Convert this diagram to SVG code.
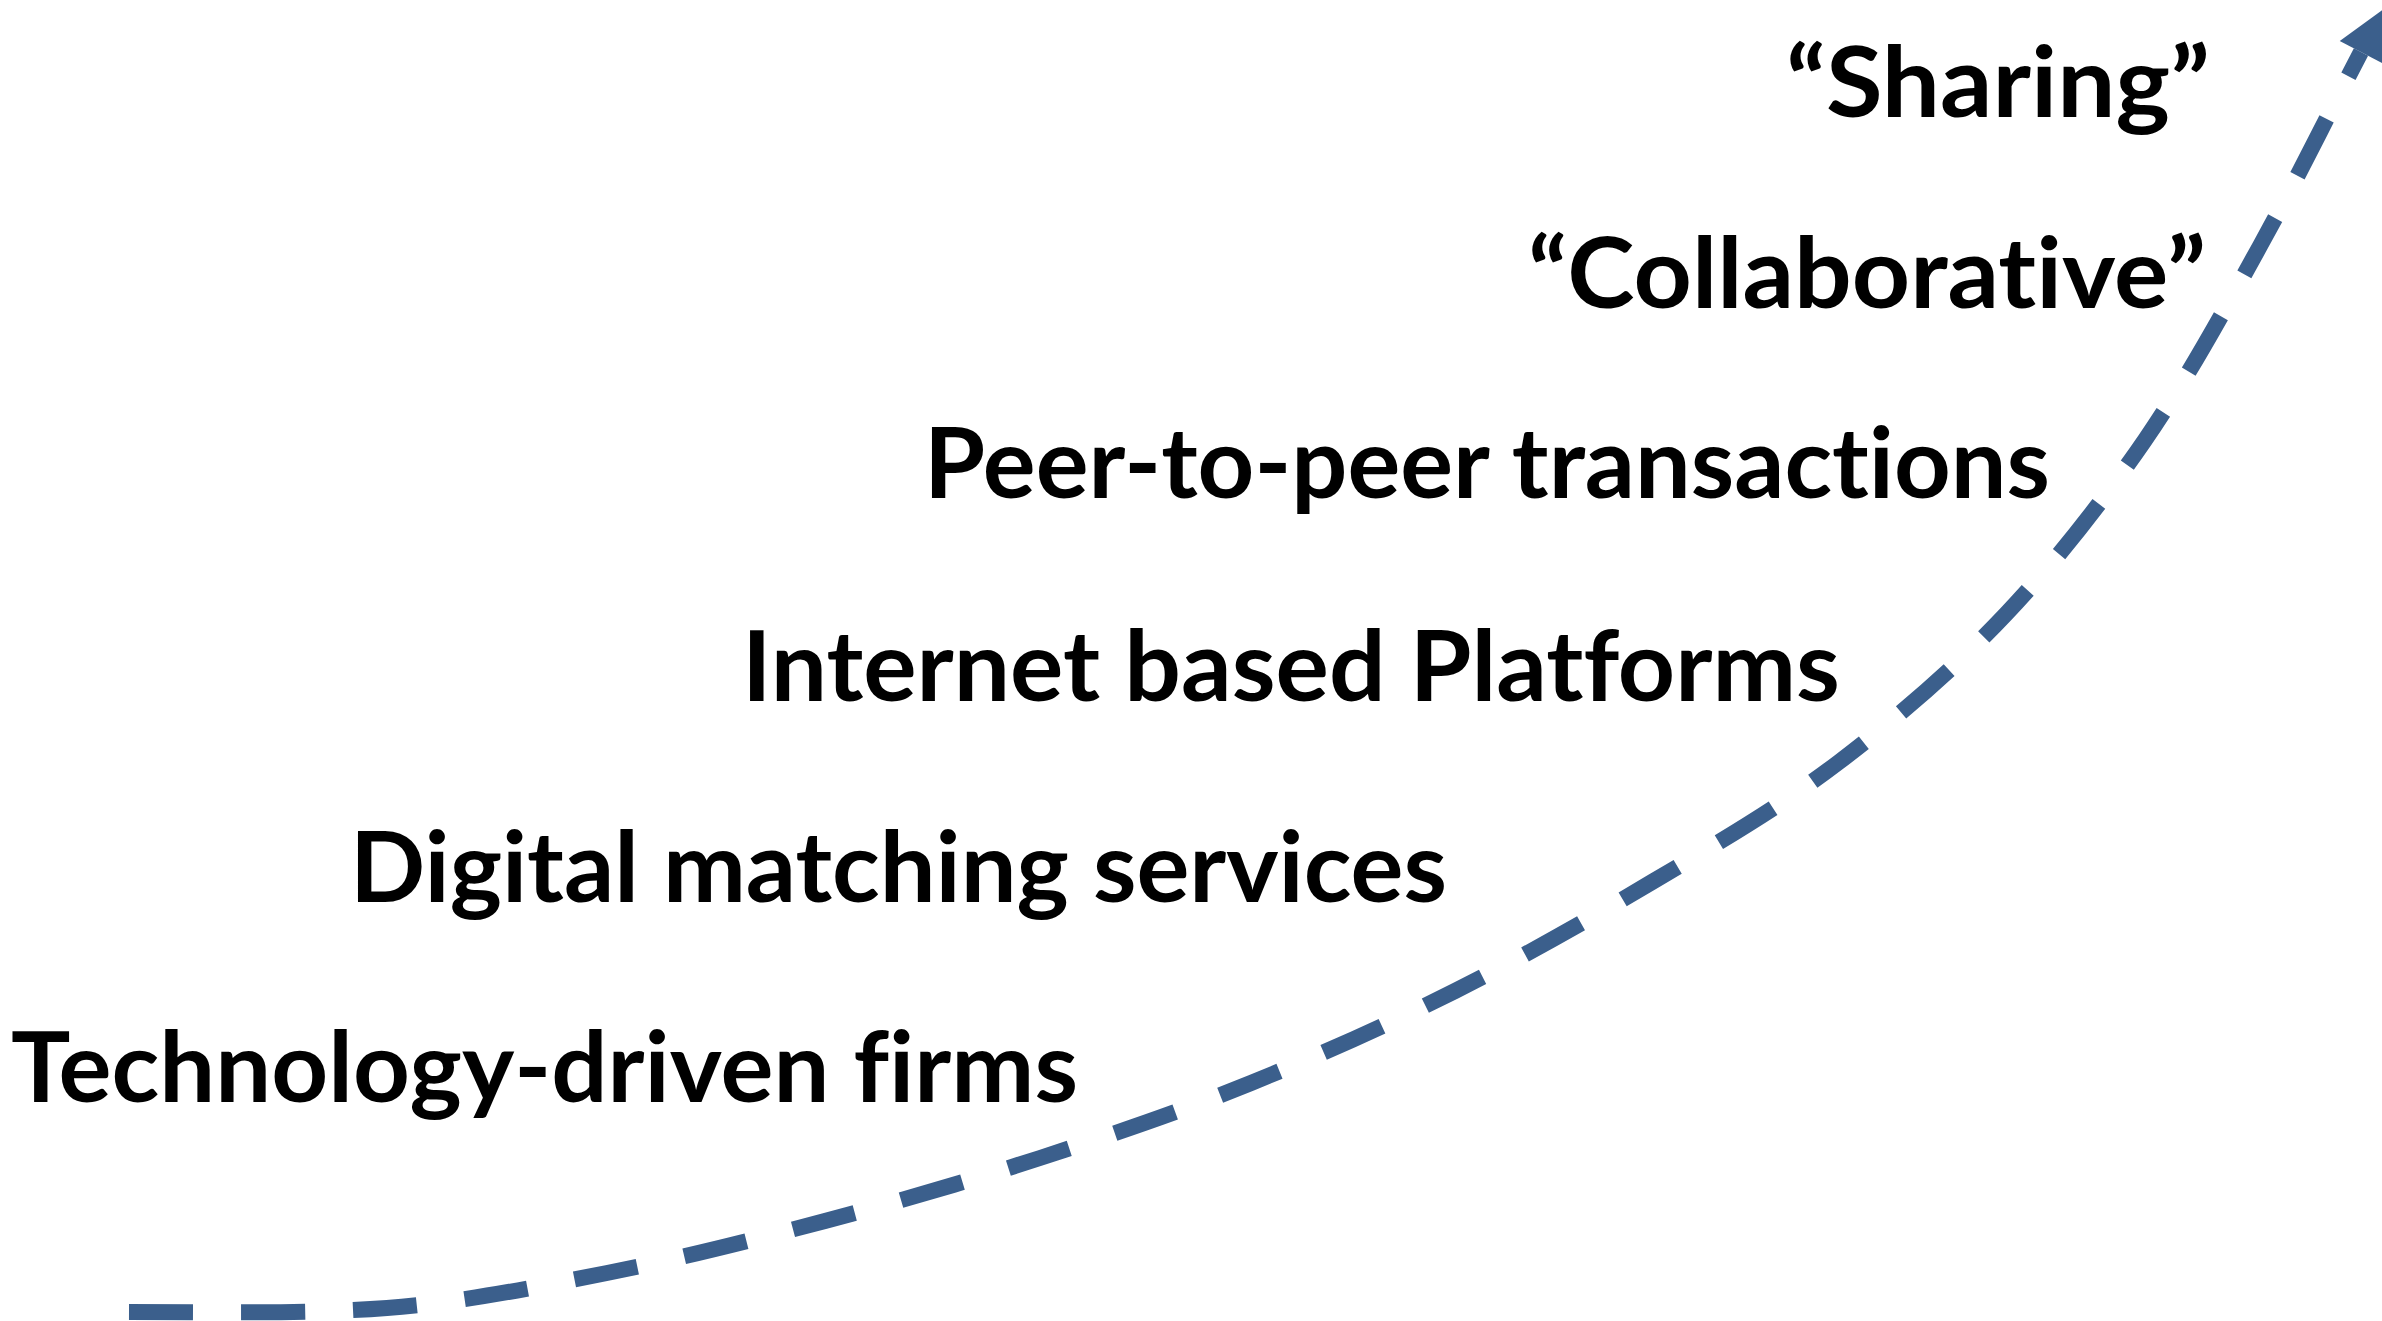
<svg xmlns="http://www.w3.org/2000/svg" width="2382" height="1321" viewBox="0 0 2382 1321">
<style>
.lbl{font-family:Lato,"Open Sans","Liberation Sans",sans-serif;font-weight:700;font-size:97px;fill:#000;font-variant-ligatures:none;font-feature-settings:"liga" 0,"clig" 0,"dlig" 0}
.curve{fill:none;stroke:#3B5F8C;stroke-width:16;stroke-dasharray:64 48;stroke-linecap:butt}
</style>
<defs>
<marker id="head" markerUnits="userSpaceOnUse" markerWidth="60" markerHeight="60" refX="0" refY="24" orient="auto" overflow="visible">
<path d="M0,0 L48,24 L0,48 Z" fill="#3B5F8C"/>
</marker>
</defs>
<rect width="2382" height="1321" fill="#fff"/>
<g id="connectors">
<path class="curve" marker-end="url(#head)" d="M129,1312 C215,1312 307,1314 387,1308 C467,1301.5 534,1287.5 607,1273 C680,1258.5 753,1240 825,1221 C897,1202 969,1181 1040,1158 C1111,1135 1182,1111 1251,1083 C1320,1055 1388,1024.5 1455,991 C1522,957.5 1588,920 1652,882 C1716,844 1780,807 1839,762 C1898,717 1955,668 2006,614 C2057,560 2103,501 2145,440 C2187,379 2224,311 2260,246 C2296,181 2327,117 2361,52"/>
</g>
<g id="node-sharing"><text class="lbl" x="1786" y="117" textLength="424" lengthAdjust="spacingAndGlyphs">“Sharing”</text></g>
<g id="node-collaborative"><text class="lbl" x="1528" y="308" textLength="678" lengthAdjust="spacingAndGlyphs">“Collaborative”</text></g>
<g id="node-p2p"><text class="lbl" x="924" y="498" textLength="1126" lengthAdjust="spacingAndGlyphs">Peer-to-peer transactions</text></g>
<g id="node-internet"><text class="lbl" x="742" y="701" textLength="1098" lengthAdjust="spacingAndGlyphs">Internet based Platforms</text></g>
<g id="node-digital"><text class="lbl" x="350" y="902" textLength="1097" lengthAdjust="spacingAndGlyphs">Digital matching services</text></g>
<g id="node-tech"><text class="lbl" x="11" y="1102" textLength="1067" lengthAdjust="spacingAndGlyphs">Technology-driven firms</text></g>
</svg>
